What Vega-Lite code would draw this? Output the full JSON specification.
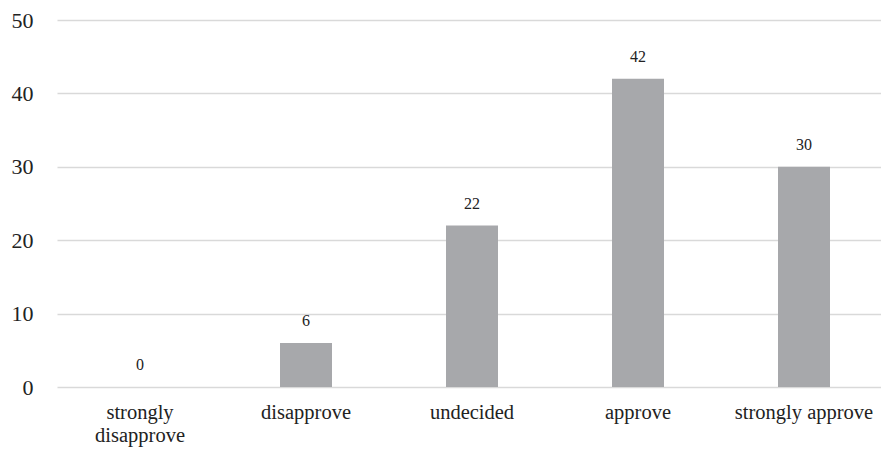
{
  "$schema": "https://vega.github.io/schema/vega-lite/v6.json",
  "width": 828,
  "height": 367,
  "autosize": {"type": "none"},
  "padding": {"left": 53, "top": 20, "right": 0, "bottom": 68},
  "background": "white",
  "config": {
    "view": {"stroke": null},
    "font": "Liberation Serif"
  },
  "data": {
    "values": [
      {"response": "strongly disapprove", "count": 0},
      {"response": "disapprove", "count": 6},
      {"response": "undecided", "count": 22},
      {"response": "approve", "count": 42},
      {"response": "strongly approve", "count": 30}
    ]
  },
  "encoding": {
    "x": {
      "field": "response",
      "type": "nominal",
      "sort": null,
      "scale": {"paddingInner": 0, "paddingOuter": 0, "range": [4, 834]},
      "axis": {
        "title": null,
        "labelAngle": 0,
        "domain": false,
        "ticks": false,
        "grid": false,
        "labelFont": "Liberation Serif",
        "labelFontSize": 20.5,
        "labelColor": "#222222",
        "labelPadding": 15,
        "labelLineHeight": 23,
        "labelLimit": 300,
        "labelExpr": "datum.label == 'strongly disapprove' ? ['strongly', 'disapprove'] : datum.label"
      }
    },
    "y": {
      "field": "count",
      "type": "quantitative",
      "scale": {"domain": [0, 50]},
      "axis": {
        "title": null,
        "values": [0, 10, 20, 30, 40, 50],
        "domain": false,
        "ticks": false,
        "labelFont": "Liberation Serif",
        "labelFontSize": 22,
        "labelColor": "#222222",
        "labelPadding": 20,
        "gridColor": "#d9d9d9",
        "gridWidth": 1.5
      }
    }
  },
  "layer": [
    {"mark": {"type": "bar", "width": 52, "color": "#a7a8ab"}},
    {
      "mark": {"type": "text", "baseline": "bottom", "dy": -14, "fontSize": 16, "color": "#222222", "font": "Liberation Serif"},
      "encoding": {"text": {"field": "count", "type": "quantitative"}}
    }
  ]
}
